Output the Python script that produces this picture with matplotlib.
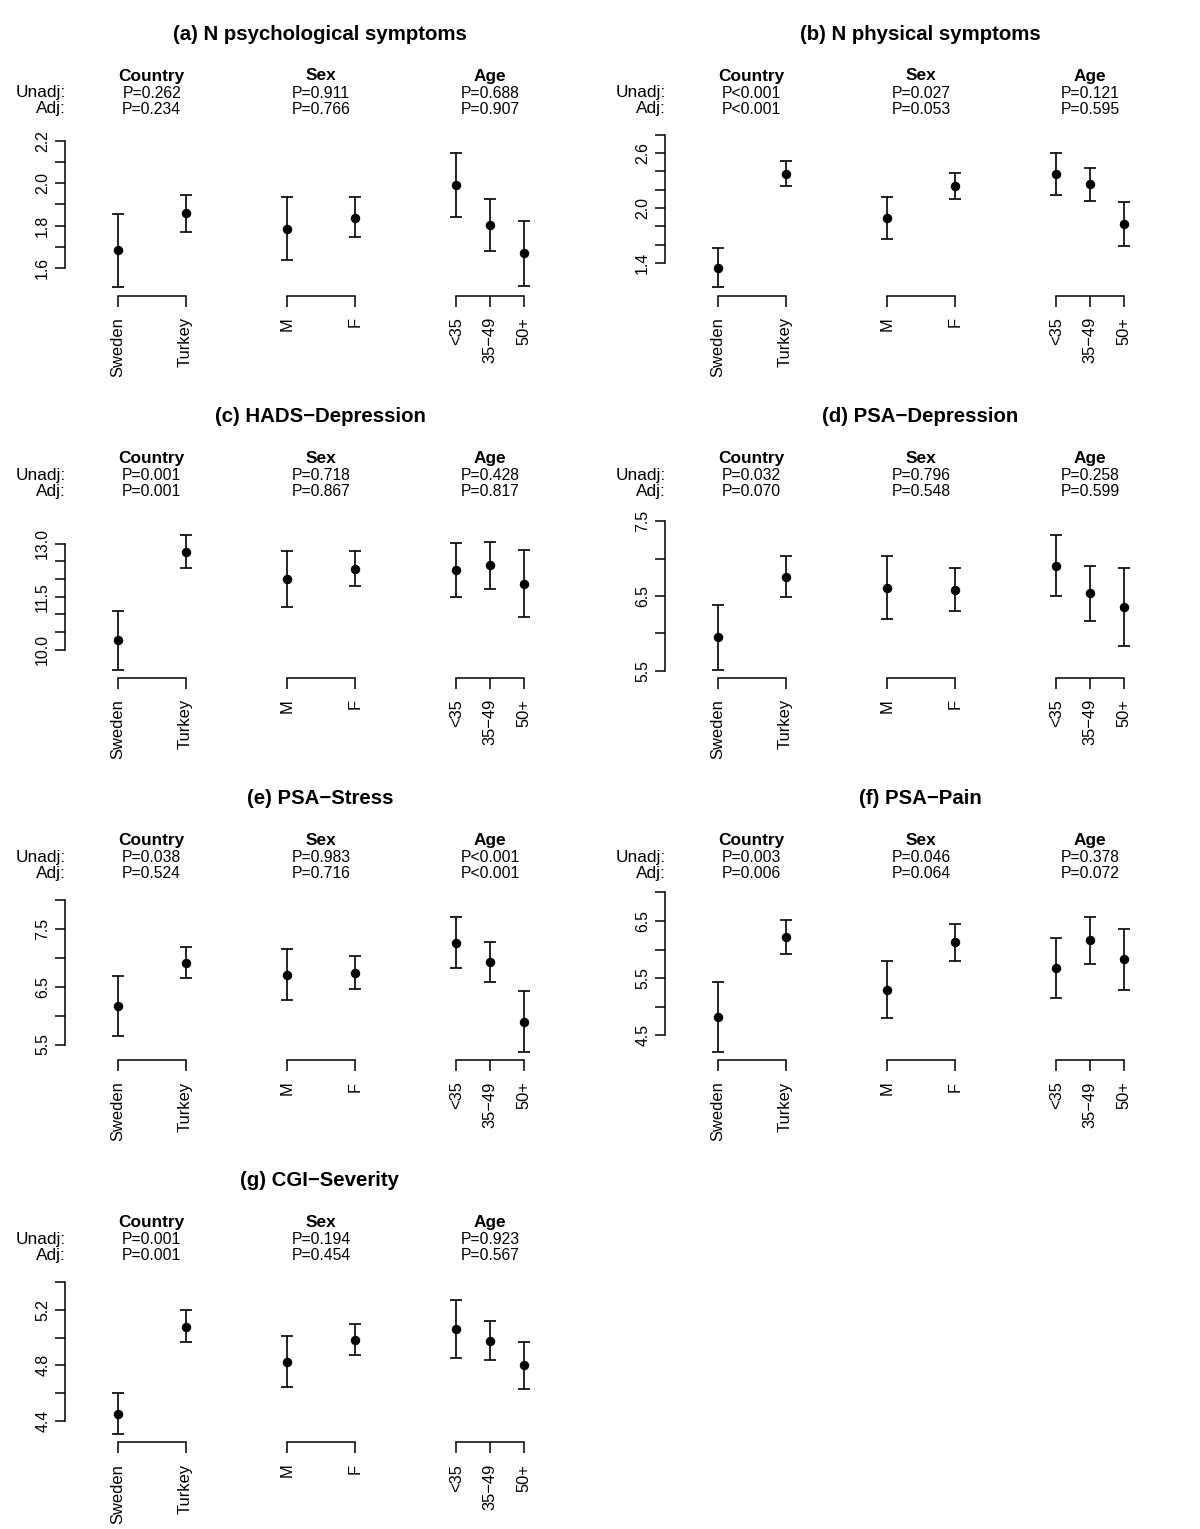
import matplotlib
matplotlib.use('Agg')
import matplotlib.pyplot as plt
import matplotlib.transforms as mtransforms

plt.rcParams['font.family'] = ['Liberation Sans', 'DejaVu Sans']

# ---------------- data ----------------
categories = ['Sweden', 'Turkey', 'M', 'F', '<35', '35\u221249', '50+']
group_names = ['Country', 'Sex', 'Age']

titles = ['(a) N psychological symptoms', '(b) N physical symptoms',
          '(c) HADS\u2212Depression', '(d) PSA\u2212Depression',
          '(e) PSA\u2212Stress', '(f) PSA\u2212Pain', '(g) CGI\u2212Severity']

p_unadj = [['P=0.262', 'P=0.911', 'P=0.688'],
           ['P<0.001', 'P=0.027', 'P=0.121'],
           ['P=0.001', 'P=0.718', 'P=0.428'],
           ['P=0.032', 'P=0.796', 'P=0.258'],
           ['P=0.038', 'P=0.983', 'P<0.001'],
           ['P=0.003', 'P=0.046', 'P=0.378'],
           ['P=0.001', 'P=0.194', 'P=0.923']]
p_adj = [['P=0.234', 'P=0.766', 'P=0.907'],
         ['P<0.001', 'P=0.053', 'P=0.595'],
         ['P=0.001', 'P=0.867', 'P=0.817'],
         ['P=0.070', 'P=0.548', 'P=0.599'],
         ['P=0.524', 'P=0.716', 'P<0.001'],
         ['P=0.006', 'P=0.064', 'P=0.072'],
         ['P=0.001', 'P=0.454', 'P=0.567']]

est_a = [1.682, 1.860, 1.782, 1.837, 1.991, 1.801, 1.670]
lo_a = [1.507, 1.768, 1.636, 1.744, 1.839, 1.678, 1.516]
hi_a = [1.856, 1.947, 1.934, 1.934, 2.145, 1.928, 1.823]

est_b = [1.349, 2.377, 1.887, 2.241, 2.377, 2.260, 1.828]
lo_b = [1.133, 2.241, 1.660, 2.095, 2.143, 2.077, 1.590]
hi_b = [1.564, 2.512, 2.117, 2.384, 2.604, 2.443, 2.066]

est_c = [10.266, 12.763, 11.988, 12.281, 12.243, 12.385, 11.855]
lo_c = [9.433, 12.300, 11.202, 11.789, 11.486, 11.723, 10.928]
hi_c = [11.108, 13.246, 12.782, 12.801, 13.009, 13.057, 12.811]

est_d = [5.944, 6.756, 6.612, 6.581, 6.908, 6.536, 6.357]
lo_d = [5.513, 6.491, 6.195, 6.303, 6.504, 6.168, 5.836]
hi_d = [6.379, 7.029, 7.034, 6.868, 7.316, 6.904, 6.872]

est_e = [6.169, 6.913, 6.709, 6.744, 7.262, 6.924, 5.890]
lo_e = [5.651, 6.645, 6.273, 6.459, 6.820, 6.581, 5.372]
hi_e = [6.692, 7.180, 7.157, 7.029, 7.703, 7.273, 6.424]

est_f = [4.817, 6.214, 5.298, 6.126, 5.674, 6.161, 5.832]
lo_f = [4.212, 5.932, 4.799, 5.809, 5.146, 5.744, 5.292]
hi_f = [5.433, 6.513, 5.797, 6.443, 6.208, 6.566, 6.360]

est_g = [4.448, 5.079, 4.825, 4.985, 5.062, 4.977, 4.799]
lo_g = [4.303, 4.968, 4.642, 4.873, 4.849, 4.840, 4.627]
hi_g = [4.598, 5.195, 5.011, 5.098, 5.274, 5.117, 4.970]

yticks_a = [1.6, 1.7, 1.8, 1.9, 2.0, 2.1, 2.2]
ylabels_a = ['1.6', '', '1.8', '', '2.0', '', '2.2']
yticks_b = [1.4, 1.6, 1.8, 2.0, 2.2, 2.4, 2.6, 2.8]
ylabels_b = ['1.4', '', '', '2.0', '', '', '2.6', '']
yticks_c = [10.0, 10.5, 11.0, 11.5, 12.0, 12.5, 13.0]
ylabels_c = ['10.0', '', '', '11.5', '', '', '13.0']
yticks_d = [5.5, 6.0, 6.5, 7.0, 7.5]
ylabels_d = ['5.5', '', '6.5', '', '7.5']
yticks_e = [5.5, 6.0, 6.5, 7.0, 7.5, 8.0]
ylabels_e = ['5.5', '', '6.5', '', '7.5', '']
yticks_f = [4.5, 5.0, 5.5, 6.0, 6.5, 7.0]
ylabels_f = ['4.5', '', '5.5', '', '6.5', '']
yticks_g = [4.4, 4.6, 4.8, 5.0, 5.2, 5.4]
ylabels_g = ['4.4', '', '4.8', '', '5.2', '']

panels = [
    (est_a, lo_a, hi_a, yticks_a, ylabels_a),
    (est_b, lo_b, hi_b, yticks_b, ylabels_b),
    (est_c, lo_c, hi_c, yticks_c, ylabels_c),
    (est_d, lo_d, hi_d, yticks_d, ylabels_d),
    (est_e, lo_e, hi_e, yticks_e, ylabels_e),
    (est_f, lo_f, hi_f, yticks_f, ylabels_f),
    (est_g, lo_g, hi_g, yticks_g, ylabels_g),
]

# ---------------- layout ----------------
W, H = 1200, 1529
DPI = 100
PANEL_W = 600
PANEL_H = H / 4.0

xpos = [1, 2, 3.5, 4.5, 6, 6.5, 7]
group_spans = [(1, 2), (3.5, 4.5), (6, 7)]
group_centers = [1.5, 4.0, 6.5]

XLIM = (0.22, 7.78)
PLOT_LEFT, PLOT_RIGHT = 65, 577
DATA_TOP, DATA_BOT = 147.4, 292.8   # R plot region (px, relative to panel)
AX_TOP, AX_BOT = 118, 295.5         # matplotlib axes extent (px)

FS_TITLE = 14.7
FS_HEAD = 12.4
FS_ROW = 12.4
FS_P = 11.3
FS_YTICK = 11.4
FS_XTICK = 11.9
PX = 72.0 / DPI   # points per pixel

fig = plt.figure(figsize=(W / DPI, H / DPI), dpi=DPI)
fig.patch.set_facecolor('white')


def fy(y):
    return 1 - y / H


for i, (est, lo, hi, yt, yl) in enumerate(panels):
    r, c = divmod(i, 2)
    x0 = c * PANEL_W
    y0 = r * PANEL_H
    ax = fig.add_axes([(x0 + PLOT_LEFT) / W, fy(y0 + AX_BOT),
                       (PLOT_RIGHT - PLOT_LEFT) / W, (AX_BOT - AX_TOP) / H])
    ax.patch.set_alpha(0)
    dlo, dhi = min(lo), max(hi)
    rng = dhi - dlo
    ulo, uhi = dlo - 0.04 * rng, dhi + 0.04 * rng
    s = (uhi - ulo) / (DATA_BOT - DATA_TOP)
    ax.set_ylim(ulo - (AX_BOT - DATA_BOT) * s, uhi + (DATA_TOP - AX_TOP) * s)
    ax.set_xlim(*XLIM)

    yerr = [[e - l for e, l in zip(est, lo)], [h - e for e, h in zip(est, hi)]]
    ax.errorbar(xpos, est, yerr=yerr, fmt='o', color='black', ms=5.8,
                capsize=4.6, elinewidth=1.2, capthick=1.2, clip_on=False)

    for sp in ['top', 'right', 'bottom']:
        ax.spines[sp].set_visible(False)
    ax.spines['left'].set_bounds(yt[0], yt[-1])
    ax.spines['left'].set_linewidth(1.1)

    ax.set_yticks(yt)
    ax.set_yticklabels(yl, rotation=90, va='center', fontsize=FS_YTICK)
    ax.tick_params(axis='y', length=10 * PX, width=1.1, pad=3.5)

    ax.set_xticks(xpos)
    ax.set_xticklabels(categories, rotation=90, fontsize=FS_XTICK)
    ax.tick_params(axis='x', length=11 * PX, width=1.1, pad=7.5)

    btr = mtransforms.blended_transform_factory(ax.transData, ax.transAxes)
    for a, b in group_spans:
        ax.plot([a, b], [0, 0], color='black', lw=1.1, transform=btr,
                clip_on=False, solid_capstyle='projecting')

    htr = mtransforms.blended_transform_factory(ax.transData, fig.transFigure)
    for g, xc in enumerate(group_centers):
        ax.text(xc, fy(y0 + 76), group_names[g], transform=htr, ha='center',
                va='center', fontsize=FS_HEAD, fontweight='bold')
        ax.text(xc, fy(y0 + 93), p_unadj[i][g], transform=htr, ha='center',
                va='center', fontsize=FS_P)
        ax.text(xc, fy(y0 + 109), p_adj[i][g], transform=htr, ha='center',
                va='center', fontsize=FS_P)

    fig.text((x0 + 66) / W, fy(y0 + 93), 'Unadj:', ha='right', va='center',
             fontsize=FS_ROW)
    fig.text((x0 + 66) / W, fy(y0 + 109), 'Adj:', ha='right', va='center',
             fontsize=FS_ROW)
    fig.text((x0 + 320) / W, fy(y0 + 34), titles[i], ha='center', va='center',
             fontsize=FS_TITLE, fontweight='bold')

fig.savefig('out.png', dpi=DPI)
